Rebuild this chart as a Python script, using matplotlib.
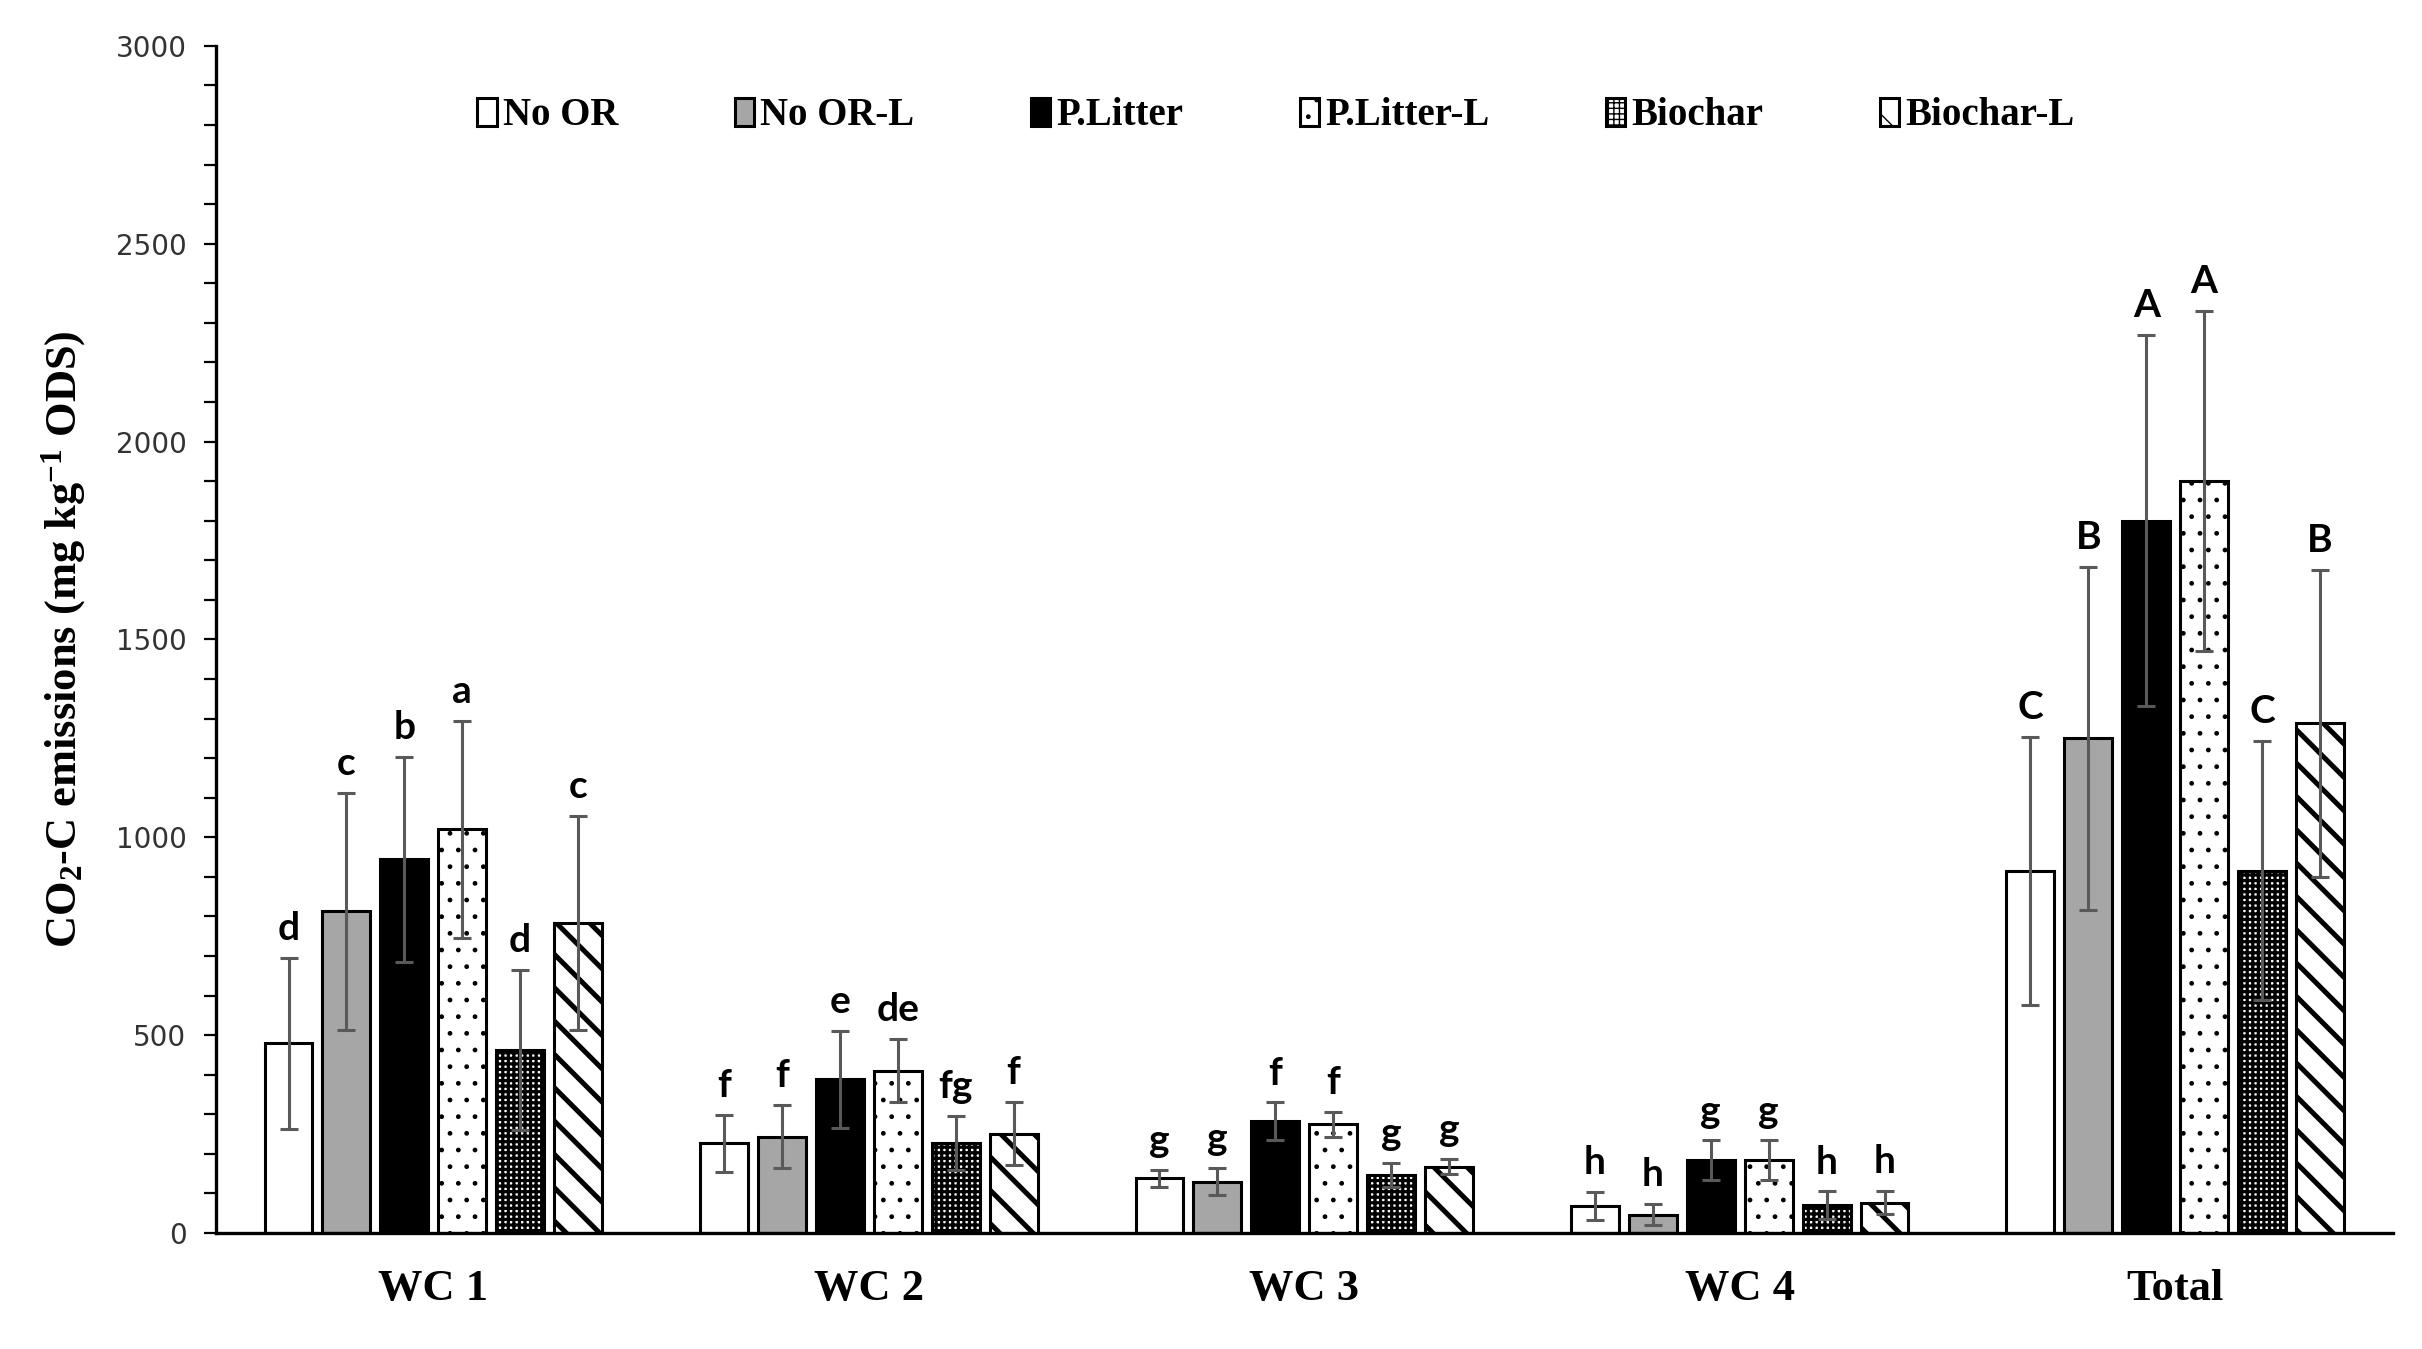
import numpy as np
import matplotlib
matplotlib.use("Agg")
import matplotlib.pyplot as plt
from matplotlib.ticker import MultipleLocator

groups = ["WC 1", "WC 2", "WC 3", "WC 4", "Total"]
treatments = ["No OR", "No OR-L", "P.Litter", "P.Litter-L", "Biochar", "Biochar-L"]

# mean CO2-C per treatment, one value per group (WC1..WC4, Total)
no_or = [480, 227, 138, 69, 915]
no_or_l = [813, 243, 130, 46, 1250]
p_litter = [944, 388, 283, 184, 1800]
p_litter_l = [1020, 410, 275, 184, 1900]
biochar = [463, 228, 147, 70, 916]
biochar_l = [784, 251, 168, 77, 1288]

# error bars
no_or_err = [216, 72, 22, 35, 339]
no_or_l_err = [300, 80, 35, 27, 434]
p_litter_err = [258, 122, 47, 50, 469]
p_litter_l_err = [275, 80, 32, 50, 430]
biochar_err = [202, 68, 31, 35, 327]
biochar_l_err = [270, 80, 20, 30, 388]

# significance letters
no_or_lab = ["d", "f", "g", "h", "C"]
no_or_l_lab = ["c", "f", "g", "h", "B"]
p_litter_lab = ["b", "e", "f", "g", "A"]
p_litter_l_lab = ["a", "de", "f", "g", "A"]
biochar_lab = ["d", "fg", "g", "h", "C"]
biochar_l_lab = ["c", "f", "g", "h", "B"]

means = [no_or, no_or_l, p_litter, p_litter_l, biochar, biochar_l]
errs = [no_or_err, no_or_l_err, p_litter_err, p_litter_l_err, biochar_err, biochar_l_err]
labs = [no_or_lab, no_or_l_lab, p_litter_lab, p_litter_l_lab, biochar_lab, biochar_l_lab]

faces = ["white", "#a6a6a6", "black", "white", "white", "white"]
hatches = [None, None, None, ".", "+++", "\\"]
hatch_lw = [1.0, 1.0, 1.0, 1.0, 2.3, 3.6]

serif = ["Liberation Serif", "DejaVu Serif"]
plt.rcParams["mathtext.fontset"] = "custom"
plt.rcParams["mathtext.rm"] = "Liberation Serif:bold"
plt.rcParams["mathtext.bf"] = "Liberation Serif:bold"
plt.rcParams["mathtext.it"] = "Liberation Serif:bold"

fig = plt.figure(figsize=(24.22, 13.49), dpi=100)
ax = fig.add_axes([0.089, 0.086, 0.899, 0.880])

x = np.arange(len(groups))
step = 0.133
width = 0.11
for i in range(6):
    pos = x + (i - 2.5) * step
    bars = ax.bar(pos, means[i], width, color=faces[i], edgecolor="black",
                  linewidth=2.2, hatch=hatches[i], label=treatments[i], zorder=2)
    if hasattr(bars[0], "set_hatch_linewidth"):
        for b in bars:
            b.set_hatch_linewidth(hatch_lw[i])
    ax.errorbar(pos, means[i], yerr=errs[i], fmt="none", ecolor="#595959",
                elinewidth=2.2, capsize=6.5, capthick=2.2, zorder=3)
    for j in range(len(groups)):
        ax.text(pos[j], means[i][j] + errs[i][j] + 30, labs[i][j], ha="center",
                va="bottom", fontsize=28, fontweight="bold", family="Lato")

ax.set_xlim(-0.5, 4.5)
ax.set_ylim(0, 3000)
ax.yaxis.set_major_locator(MultipleLocator(500))
ax.yaxis.set_minor_locator(MultipleLocator(100))
ax.tick_params(axis="y", which="both", direction="out", length=9, width=1.6,
               labelsize=20, pad=12, labelcolor="#333333")
for t in ax.get_yticklabels():
    t.set_family("DejaVu Sans")
ax.set_xticks(x)
ax.set_xticklabels(groups, fontsize=32, fontweight="bold", family=serif)
ax.tick_params(axis="x", length=0, pad=26)
for s in ["top", "right"]:
    ax.spines[s].set_visible(False)
ax.spines["left"].set_linewidth(2.4)
ax.spines["bottom"].set_linewidth(2.4)

ax.set_ylabel("CO$_{2}$-C emissions (mg kg$^{-1}$ ODS)", fontsize=32,
              fontweight="bold", family=serif, labelpad=20)

leg = ax.legend(loc="center", bbox_to_anchor=(0.487, 0.941), ncol=6, frameon=False,
                prop={"family": serif, "weight": "bold", "size": 28},
                handlelength=0.5, handleheight=0.75, handletextpad=0.15,
                columnspacing=3.0)

fig.savefig("out.png", dpi=100)
